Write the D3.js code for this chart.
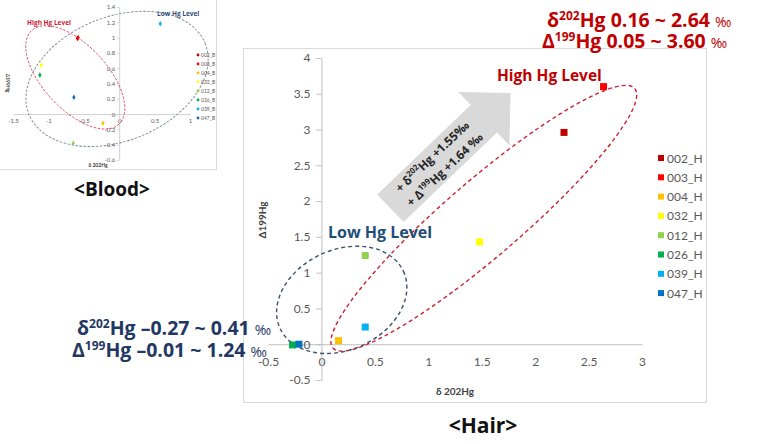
<!DOCTYPE html>
<html>
<head>
<meta charset="utf-8">
<script src="https://cdn.jsdelivr.net/npm/d3@7"></script>
<style>
  body { margin: 0; background: #fff; }
  svg { display: block; }
  .tick text { font-family: Lato, "Open Sans", sans-serif; fill: #595959; }
  .ann { font-family: "Open Sans", "Noto Sans", sans-serif; font-weight: bold; }
</style>
</head>
<body>
<svg id="chart" width="780" height="444"></svg>
<script>
// sample ids and colours (same order for hair and blood)
var hairSamples = ["002_H", "003_H", "004_H", "032_H", "012_H", "026_H", "039_H", "047_H"];
var bloodSamples = ["002_B", "003_B", "004_B", "032_B", "012_B", "026_B", "039_B", "047_B"];
var sampleColors = ["#c00000", "#ff0000", "#ffc000", "#ffff00", "#92d050", "#00b050", "#00b0f0", "#0070c0"];

// hair: d202Hg (x), D199Hg (y)
var hairD202 = [2.27, 2.64, 0.16, 1.48, 0.41, -0.27, 0.41, -0.21];
var hairD199 = [2.96, 3.60, 0.05, 1.43, 1.24, -0.01, 0.24, 0.00];

// blood: d202Hg (x), D199Hg (y)
var bloodD202 = [-0.59, -0.58, -0.23, -1.10, -0.65, -1.12, 0.58, -0.64];
var bloodD199 = [0.99, 1.00, -0.12, 0.64, -0.38, 0.51, 1.18, 0.22];

// tick labels
var hairXTicks = [-0.5, 0, 0.5, 1, 1.5, 2, 2.5, 3];
var hairYTicks = [-0.5, 0, 0.5, 1, 1.5, 2, 2.5, 3, 3.5, 4];
var bloodXTicks = [-1.5, -1, -0.5, 0, 0.5, 1];
var bloodYTicks = [-0.6, -0.4, -0.2, 0, 0.2, 0.4, 0.6, 0.8, 1, 1.2, 1.4];

var svg = d3.select("#chart");

drawHair();
drawBlood();

function fmt(d) { return String(d); }

function drawHair() {
  var x = d3.scaleLinear().domain([-0.5, 3]).range([268, 642]);
  var y = d3.scaleLinear().domain([-0.5, 4]).range([380, 58]);

  var g = svg.append("g");

  // chart frame
  g.append("rect").attr("x", 243.5).attr("y", 48.5).attr("width", 463).attr("height", 354)
    .attr("fill", "none").attr("stroke", "#d9d9d9");

  // axes crossing at 0
  var xAxis = g.append("g").attr("transform", "translate(0," + y(0) + ")")
    .call(d3.axisBottom(x).tickValues(hairXTicks).tickFormat(fmt).tickSize(0).tickPadding(13));
  var yAxis = g.append("g").attr("transform", "translate(" + x(0) + ",0)")
    .call(d3.axisLeft(y).tickValues(hairYTicks).tickFormat(fmt).tickSize(5).tickSizeOuter(0).tickPadding(6));
  [xAxis, yAxis].forEach(function(a) {
    a.select(".domain").attr("stroke", "#bfbfbf");
    a.selectAll(".tick line").attr("stroke", "#bfbfbf");
    a.selectAll(".tick text").attr("font-size", 12);
  });

  // axis titles
  g.append("text").attr("transform", "translate(266,220) rotate(-90)")
    .attr("text-anchor", "middle").attr("font-family", "Lato, sans-serif").attr("font-weight", "bold")
    .attr("font-size", 10).attr("fill", "#404040").text("\u0394199Hg");
  g.append("text").attr("x", 455).attr("y", 395)
    .attr("text-anchor", "middle").attr("font-family", "Lato, sans-serif").attr("font-weight", "bold")
    .attr("font-size", 10).attr("fill", "#404040").text("\u03b4 202Hg");

  // gray trend arrow (start and tip in data units)
  var a0 = [x(0.645), y(1.90)], a1 = [x(1.77), y(3.51)];
  var len = Math.hypot(a1[0] - a0[0], a1[1] - a0[1]);
  var ang = Math.atan2(a1[1] - a0[1], a1[0] - a0[0]) * 180 / Math.PI;
  var hl = 37, sw = 19, hw = 37;
  var ag = g.append("g").attr("transform", "translate(" + a0[0] + "," + a0[1] + ") rotate(" + ang + ")");
  ag.append("path")
    .attr("d", "M0," + (-sw) + "L" + (len - hl) + "," + (-sw) + "L" + (len - hl) + "," + (-hw) +
      "L" + len + ",0L" + (len - hl) + "," + hw + "L" + (len - hl) + "," + sw + "L0," + sw + "Z")
    .attr("fill", "#d9d9d9");
  var t1 = ag.append("text").attr("x", 66).attr("y", -4).attr("text-anchor", "middle")
    .attr("class", "ann").attr("font-size", 12).attr("fill", "#262626");
  t1.append("tspan").text("+ \u03b4");
  t1.append("tspan").attr("font-size", 8).attr("dy", -5).text("202");
  t1.append("tspan").attr("dy", 5).text("Hg +1.55\u2030");
  var t2 = ag.append("text").attr("x", 66).attr("y", 14).attr("text-anchor", "middle")
    .attr("class", "ann").attr("font-size", 12).attr("fill", "#262626");
  t2.append("tspan").text("+ \u0394");
  t2.append("tspan").attr("font-size", 8).attr("dy", -5).text("199");
  t2.append("tspan").attr("dy", 5).text("Hg +1.64 \u2030");

  // dashed group ellipses (centres in data units)
  g.append("ellipse")
    .attr("transform", "translate(" + x(1.52) + "," + y(1.76) + ") rotate(-40.7)")
    .attr("rx", 199).attr("ry", 38)
    .attr("fill", "none").attr("stroke", "#cc2233").attr("stroke-width", 1.4).attr("stroke-dasharray", "4,3");
  g.append("ellipse")
    .attr("transform", "translate(" + x(0.19) + "," + y(0.62) + ") rotate(-25)")
    .attr("rx", 68).attr("ry", 50)
    .attr("fill", "none").attr("stroke", "#3e5070").attr("stroke-width", 1.4).attr("stroke-dasharray", "4,3");

  // points
  g.selectAll("rect.pt").data(hairSamples).enter().append("rect")
    .attr("class", "pt")
    .attr("x", function(d, i) { return x(hairD202[i]) - 3.5; })
    .attr("y", function(d, i) { return y(hairD199[i]) - 3.5; })
    .attr("width", 7).attr("height", 7)
    .attr("fill", function(d, i) { return sampleColors[i]; });

  // legend
  var lg = g.selectAll("g.leg").data(hairSamples).enter().append("g")
    .attr("transform", function(d, i) { return "translate(661," + (158 + i * 19.3) + ")"; });
  lg.append("rect").attr("x", -3).attr("y", -3).attr("width", 6).attr("height", 6)
    .attr("fill", function(d, i) { return sampleColors[i]; });
  lg.append("text").attr("x", 6).attr("y", 4.5).attr("font-family", "Lato, sans-serif")
    .attr("font-size", 12).attr("fill", "#595959").text(function(d) { return d; });

  // group labels
  g.append("text").attr("x", 497).attr("y", 81).attr("class", "ann")
    .attr("font-size", 15.5).attr("fill", "#c00000").text("High Hg Level");
  g.append("text").attr("x", 328).attr("y", 238).attr("class", "ann")
    .attr("font-size", 16).attr("fill", "#1f4e79").text("Low Hg Level");

  // ranges
  rangeText(547, 27, "\u03b4", "202", "Hg 0.16 ~ 2.64 ", "#c00000");
  rangeText(542, 48, "\u0394", "199", "Hg 0.05 ~ 3.60 ", "#c00000");
  rangeText(77, 335, "\u03b4", "202", "Hg \u20130.27 ~ 0.41 ", "#1f3864");
  rangeText(72, 357, "\u0394", "199", "Hg \u20130.01 ~ 1.24 ", "#1f3864");

  svg.append("text").attr("x", 483).attr("y", 433).attr("text-anchor", "middle").attr("class", "ann")
    .attr("font-size", 21).attr("fill", "#111").text("<Hair>");
}

function rangeText(px, py, sym, sup, rest, color) {
  var t = svg.append("text").attr("x", px).attr("y", py).attr("class", "ann")
    .attr("font-size", 19.5).attr("fill", color);
  t.append("tspan").text(sym);
  t.append("tspan").attr("font-size", 12).attr("dy", -7).text(sup);
  t.append("tspan").attr("dy", 7).text(rest);
  t.append("tspan").attr("font-size", 14).attr("font-weight", "normal").text("\u2030");
}

function drawBlood() {
  var x = d3.scaleLinear().domain([-1.5, 1]).range([13, 190]);
  var y = d3.scaleLinear().domain([-0.6, 1.4]).range([160, 7]);

  var g = svg.append("g");
  g.append("rect").attr("x", -0.5).attr("y", -0.5).attr("width", 217).attr("height", 170)
    .attr("fill", "none").attr("stroke", "#d9d9d9");

  var xAxis = g.append("g").attr("transform", "translate(0," + y(0) + ")")
    .call(d3.axisBottom(x).tickValues(bloodXTicks).tickFormat(fmt).tickSize(0).tickPadding(5));
  var yAxis = g.append("g").attr("transform", "translate(" + x(0) + ",0)")
    .call(d3.axisLeft(y).tickValues(bloodYTicks).tickFormat(fmt).tickSize(2).tickSizeOuter(0).tickPadding(2));
  [xAxis, yAxis].forEach(function(a) {
    a.select(".domain").attr("stroke", "#d0d0d0");
    a.selectAll(".tick line").attr("stroke", "#d0d0d0");
    a.selectAll(".tick text").attr("font-size", 6);
  });

  g.append("text").attr("transform", "translate(6,83) rotate(90)")
    .attr("text-anchor", "middle").attr("font-family", "Lato, sans-serif").attr("font-weight", "bold")
    .attr("font-size", 5).attr("fill", "#404040").text("\u0394199Hg");
  g.append("text").attr("x", 98).attr("y", 167)
    .attr("text-anchor", "middle").attr("font-family", "Lato, sans-serif").attr("font-weight", "bold")
    .attr("font-size", 5).attr("fill", "#404040").text("\u03b4 202Hg");

  g.append("ellipse")
    .attr("transform", "translate(" + x(-0.62) + "," + y(0.48) + ") rotate(47)")
    .attr("rx", 64).attr("ry", 32)
    .attr("fill", "none").attr("stroke", "#d9465b").attr("stroke-width", 0.9).attr("stroke-dasharray", "2.5,1.5");
  g.append("ellipse")
    .attr("transform", "translate(" + x(-0.03) + "," + y(0.46) + ") rotate(-22)")
    .attr("rx", 95).attr("ry", 62)
    .attr("fill", "none").attr("stroke", "#7a869c").attr("stroke-width", 0.9).attr("stroke-dasharray", "2.5,1.5");

  g.selectAll("path.pt").data(bloodSamples).enter().append("path")
    .attr("class", "pt")
    .attr("transform", function(d, i) { return "translate(" + x(bloodD202[i]) + "," + y(bloodD199[i]) + ")"; })
    .attr("d", d3.symbol().type(d3.symbolDiamond).size(9))
    .attr("fill", function(d, i) { return sampleColors[i]; });

  var lg = g.selectAll("g.leg").data(bloodSamples).enter().append("g")
    .attr("transform", function(d, i) { return "translate(198," + (55 + i * 9) + ")"; });
  lg.append("circle").attr("r", 1.4).attr("fill", function(d, i) { return sampleColors[i]; });
  lg.append("text").attr("x", 3).attr("y", 1.8).attr("font-family", "Lato, sans-serif")
    .attr("font-size", 5).attr("fill", "#595959").text(function(d) { return d; });

  g.append("text").attr("x", 27).attr("y", 25).attr("class", "ann")
    .attr("font-size", 6.5).attr("fill", "#d02030").text("High Hg Level");
  g.append("text").attr("x", 157).attr("y", 16).attr("class", "ann")
    .attr("font-size", 6.5).attr("fill", "#2f4a78").text("Low Hg Level");

  svg.append("text").attr("x", 112).attr("y", 196).attr("text-anchor", "middle").attr("class", "ann")
    .attr("font-size", 19).attr("fill", "#111").text("<Blood>");
}
</script>
</body>
</html>
